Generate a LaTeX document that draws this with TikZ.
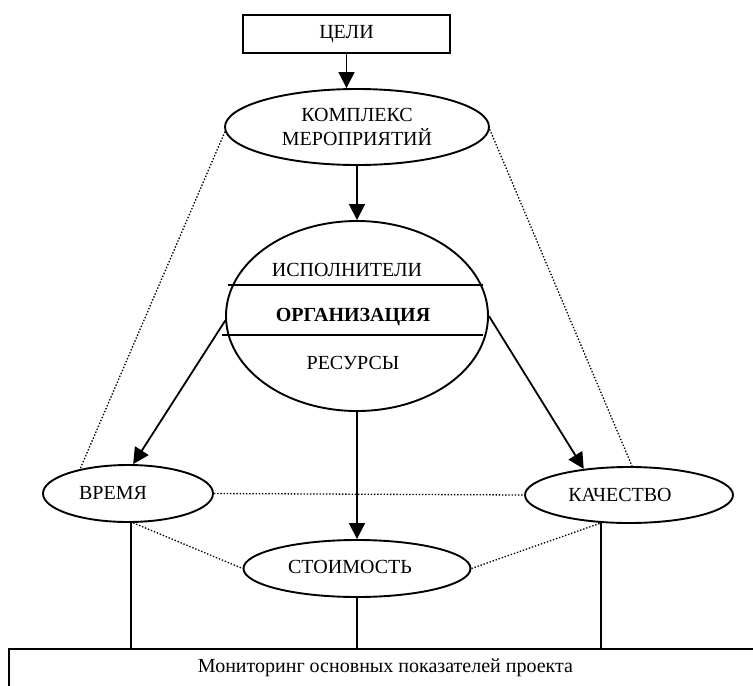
\documentclass[tikz,border=0pt]{standalone}
\usepackage{fontspec}
\setmainfont{Liberation Serif}
\usetikzlibrary{shapes.geometric,arrows.meta}
\begin{document}
\begin{tikzpicture}[x=1pt,y=-1pt,
  font=\fontsize{20}{24}\selectfont,
  ell/.style={ellipse, draw, line width=1.9pt, inner sep=0pt},
  conn/.style={line width=1.8pt},
  arr/.style={conn, -{Triangle[length=16pt,width=16pt]}},
  dots/.style={line width=1.3pt, dash pattern=on 1.4pt off 1.8pt}]
\clip (0,0) rectangle (753,686);
\fill[white] (0,0) rectangle (753,686);
% nodes
\node[draw, line width=1.9pt, minimum width=207pt, minimum height=38pt, inner sep=0pt] (celi) at (346.5,34) {ЦЕЛИ};
\node[ell, minimum width=264pt, minimum height=76pt, align=center] (komp) at (357,127) {КОМПЛЕКС\\МЕРОПРИЯТИЙ};
\node[ell, minimum width=262pt, minimum height=190pt] (org) at (357,316) {};
\node (ispol) at (347,270) {ИСПОЛНИТЕЛИ};
\node (orgt) at (353,317) {\textbf{ОРГАНИЗАЦИЯ}};
\node (res) at (353,363) {РЕСУРСЫ};
\draw[conn] (228,285) -- (483,285);
\draw[conn] (222,335) -- (483,335);
\node[ell, minimum width=170pt, minimum height=57pt] (vrem) at (128,493.5) {};
\node (vremt) at (113,493) {ВРЕМЯ};
\node[ell, minimum width=208pt, minimum height=56pt] (kach) at (629,495) {};
\node (kacht) at (620,495) {КАЧЕСТВО};
\node[ell, minimum width=227pt, minimum height=57pt] (stoim) at (357,568.5) {};
\node (stoimt) at (350,567) {СТОИМОСТЬ};
\node[draw, line width=1.8pt, minimum width=760pt, minimum height=60pt, anchor=north west, inner sep=0pt] (mon) at (8,648) {};
\node (mont) at (385.5,668) {Мониторинг основных показателей проекта};
% arrows
\draw[arr] (celi.south) -- (celi.south |- komp.north);
\draw[arr] (komp.south) -- (org.north);
\draw[arr] (org.south) -- (stoim.north);
\draw[arr] (org.182) -- (vrem.80);
\draw[arr] (org.0) -- (kach.150);
% dotted
\draw[dots] (komp.182) -- (vrem.153);
\draw[dots] (komp.359) -- (kach.84);
\draw[dots] (vrem.east) -- (kach.west);
\draw[dots] (vrem.280) -- (stoim.west);
\draw[dots] (stoim.east) -- (kach.225);
% solid to monitoring
\draw[conn] ([xshift=3pt]vrem.south) -- ([xshift=3pt]vrem.south |- mon.north);
\draw[conn] (stoim.south) -- (stoim.south |- mon.north);
\draw[conn] (kach.225) -- (kach.225 |- mon.north);
\end{tikzpicture}
\end{document}
